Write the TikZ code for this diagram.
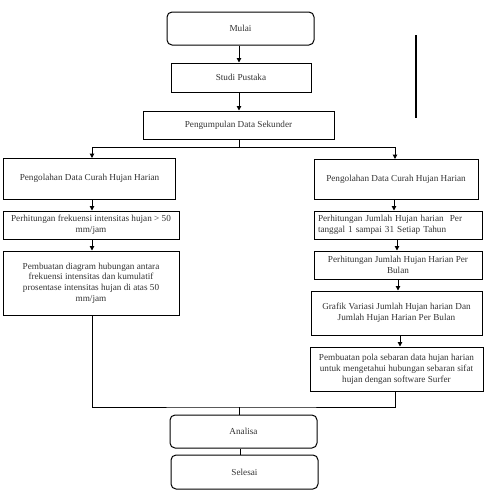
\documentclass[tikz,border=0pt]{standalone}
\usepackage{fontspec}
\setmainfont{Liberation Serif}
\usetikzlibrary{arrows.meta}
\begin{document}
\begin{tikzpicture}[x=1pt,y=-1pt,
  every node/.style={font=\fontsize{9.2}{10.8}\selectfont, text=black!80, inner sep=0pt},
  box/.style={draw=black, line width=1pt, rectangle, align=center},
  term/.style={box, rounded corners=5pt},
  conn/.style={draw=black, line width=1pt},
  arr/.style={conn, -{Triangle[length=4.5pt,width=4.5pt]}}
]
\useasboundingbox (0,0) rectangle (487,491);
\node[term, minimum width=147pt, minimum height=33pt] (mulai) at (240.5,28.5) {Mulai};
\node[box, minimum width=140pt, minimum height=29pt] (studi) at (241,77.5) {Studi Pustaka};
\node[box, minimum width=191pt, minimum height=28pt] (kumpul) at (238.5,125) {Pengumpulan Data Sekunder};

\node[box, minimum width=172pt, minimum height=41pt] (l1) at (89.5,178.5) {Pengolahan Data Curah Hujan Harian};
\node[box, minimum width=176pt, minimum height=28pt] (l2) at (91,225) {Perhitungan frekuensi intensitas hujan > 50\\mm/jam};
\node[box, minimum width=176pt, minimum height=64pt] (l3) at (91,283) {Pembuatan diagram hubungan antara\\frekuensi intensitas dan kumulatif\\prosentase intensitas hujan di atas 50\\mm/jam};

\node[box, minimum width=164pt, minimum height=40pt] (r1) at (396,179) {Pengolahan Data Curah Hujan Harian};
\node[box, minimum width=168pt, minimum height=28pt, text width=160pt, align=left] (r2) at (398,225) {Perhitungan Jumlah Hujan harian\ \ Per\\tanggal 1 sampai 31 Setiap Tahun};
\node[box, minimum width=168pt, minimum height=28pt] (r3) at (398,265) {Perhitungan Jumlah Hujan Harian Per\\Bulan};
\node[box, minimum width=171pt, minimum height=44pt] (r4) at (396.5,313) {Grafik Variasi Jumlah Hujan harian Dan\\Jumlah Hujan Harian Per Bulan};
\node[box, minimum width=173pt, minimum height=44pt] (r5) at (396.5,369) {Pembuatan pola sebaran data hujan harian\\untuk mengetahui hubungan sebaran sifat\\hujan dengan software Surfer};

\node[term, minimum width=147pt, minimum height=33pt] (analisa) at (243.5,431.5) {Analisa};
\node[term, minimum width=147pt, minimum height=34pt] (selesai) at (244.5,472) {Selesai};

\draw[conn, line width=1.3pt] (416,35) -- (416,118);

\coordinate (split) at (239,147);
\coordinate (join) at (239,407);

\draw[arr] (mulai.south -| 239,0) -- (studi.north -| 239,0);
\draw[arr] (studi.south -| 239,0) -- (kumpul.north -| 239,0);
\draw[conn] (kumpul.south -| split) -- (split);
\draw[arr] (split) -| (92,158);
\draw[arr] (split) -| (395,159);

\draw[arr] (l1.south -| 92,0) -- (l2.north -| 92,0);
\draw[arr] (l2.south -| 92,0) -- (l3.north -| 92,0);

\draw[arr] (r1.south -| 394,0) -- (r2.north -| 394,0);
\draw[arr] (r2.south -| 397,0) -- (r3.north -| 397,0);
\draw[arr] (r3.south -| 398,0) -- (r4.north -| 398,0);
\draw[arr] (r4.south -| 400,0) -- (r5.north -| 400,0);

\draw[conn] (l3.south -| 92,0) |- (join) -| (r5.south -| 395,0);
\draw[conn] (join) -- (analisa.north -| join);
\draw[conn] (analisa.south -| 240,0) -- (selesai.north -| 240,0);
\end{tikzpicture}
\end{document}
